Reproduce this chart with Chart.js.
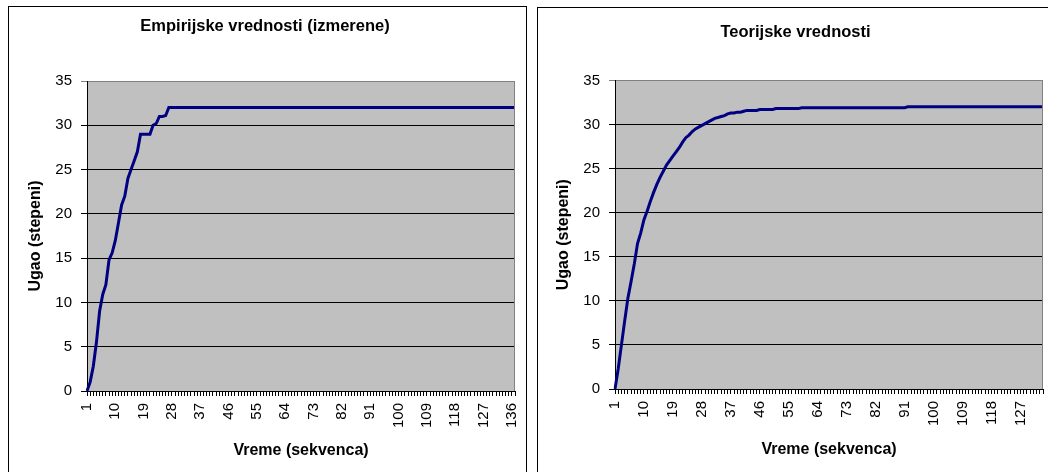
<!DOCTYPE html>
<html>
<head>
<meta charset="utf-8">
<script src="https://cdn.jsdelivr.net/npm/chart.js@4"></script>
<style>
    html, body { margin: 0; padding: 0; background: #fff; overflow: hidden; width: 1048px; height: 472px; }
    .box { position: absolute; border: 1px solid #000; background: #fff; }
    #leftBox { left: 8px; top: 6px; width: 517px; height: 480px; }
    #rightBox { left: 537px; top: 7px; width: 520px; height: 480px; }
    canvas { display: block; }
</style>
</head>
<body>
<div class="box" id="leftBox"><canvas id="empChart" width="517" height="465"></canvas></div>
<div class="box" id="rightBox"><canvas id="teoChart" width="520" height="464"></canvas></div>

<script>
// Empirijske vrednosti (izmerene), one value per sequence step
const empirical = [
    0, 1, 2.8, 5.5, 9, 10.9, 12, 14.8, 15.6, 17,
    19, 21, 22, 24, 25, 26, 27, 29, 29, 29,
    29, 30, 30.2, 31, 31, 31.1, 32, 32, 32, 32,
    32, 32, 32, 32, 32, 32, 32, 32, 32, 32,
    32, 32, 32, 32, 32, 32, 32, 32, 32, 32,
    32, 32, 32, 32, 32, 32, 32, 32, 32, 32,
    32, 32, 32, 32, 32, 32, 32, 32, 32, 32,
    32, 32, 32, 32, 32, 32, 32, 32, 32, 32,
    32, 32, 32, 32, 32, 32, 32, 32, 32, 32,
    32, 32, 32, 32, 32, 32, 32, 32, 32, 32,
    32, 32, 32, 32, 32, 32, 32, 32, 32, 32,
    32, 32, 32, 32, 32, 32, 32, 32, 32, 32,
    32, 32, 32, 32, 32, 32, 32, 32, 32, 32,
    32, 32, 32, 32, 32, 32, 32
];

// Teorijske vrednosti
const theoretical = [
    0, 2.3, 5.0, 7.7, 10.3, 12.2, 14.2, 16.5, 17.7, 19.2,
    20.2, 21.3, 22.3, 23.2, 24.0, 24.7, 25.4, 25.9, 26.4, 26.9,
    27.4, 28.0, 28.5, 28.8, 29.2, 29.5, 29.7, 29.9, 30.1, 30.3,
    30.5, 30.7, 30.8, 30.9, 31.0, 31.2, 31.3, 31.3, 31.4, 31.4,
    31.5, 31.6, 31.6, 31.6, 31.6, 31.7, 31.7, 31.7, 31.7, 31.7,
    31.8, 31.8, 31.8, 31.8, 31.8, 31.8, 31.8, 31.8, 31.9, 31.9,
    31.9, 31.9, 31.9, 31.9, 31.9, 31.9, 31.9, 31.9, 31.9, 31.9,
    31.9, 31.9, 31.9, 31.9, 31.9, 31.9, 31.9, 31.9, 31.9, 31.9,
    31.9, 31.9, 31.9, 31.9, 31.9, 31.9, 31.9, 31.9, 31.9, 31.9,
    31.9, 32, 32, 32, 32, 32, 32, 32, 32, 32,
    32, 32, 32, 32, 32, 32, 32, 32, 32, 32,
    32, 32, 32, 32, 32, 32, 32, 32, 32, 32,
    32, 32, 32, 32, 32, 32, 32, 32, 32, 32,
    32, 32, 32, 32
];

// sequence numbers on the x axis, every 9th one is printed
const empLabels = empirical.map((v, i) => String(i + 1));
const teoLabels = theoretical.map((v, i) => String(i + 1));
const labelStep = 9;

const yTicks = { min: 0, max: 35, step: 5 };

const FONT = "'Liberation Sans', Arial, sans-serif";

// grey plot area, like the spreadsheet original
const plotBackground = {
    id: 'plotBackground',
    beforeDraw(chart) {
        const { ctx, chartArea: a } = chart;
        ctx.save();
        ctx.fillStyle = '#C0C0C0';
        ctx.fillRect(a.left, a.top, a.right - a.left, a.bottom - a.top);
        ctx.restore();
    },
    afterDraw(chart) {
        const { ctx, chartArea: a } = chart;
        ctx.save();
        ctx.strokeStyle = '#808080';
        ctx.lineWidth = 1;
        ctx.beginPath();
        ctx.moveTo(Math.round(a.right) - 0.5, a.top);
        ctx.lineTo(Math.round(a.right) - 0.5, a.bottom);
        ctx.stroke();
        ctx.restore();
    }
};

function makeChart(canvasId, title, labels, values, geo) {
    const ctx = document.getElementById(canvasId).getContext('2d');
    return new Chart(ctx, {
        type: 'line',
        data: {
            labels: labels,
            datasets: [{
                data: values,
                borderColor: '#000080',
                borderWidth: 3,
                pointRadius: 0,
                tension: 0,
                fill: false
            }]
        },
        options: {
            responsive: false,
            animation: false,
            layout: { padding: { left: geo.padLeft, right: geo.padRight, top: 0, bottom: 0 } },
            plugins: {
                legend: { display: false },
                tooltip: { enabled: false },
                title: {
                    display: true,
                    text: title,
                    color: '#000',
                    font: { family: FONT, size: 16.5, weight: 'bold', lineHeight: 1.2 },
                    padding: { top: geo.titleTop, bottom: geo.titleBottom }
                }
            },
            scales: {
                x: {
                    type: 'category',
                    offset: false,
                    afterFit: function(scale) {
                        scale.height = geo.xHeight;
                        scale.paddingLeft = 0;
                        scale.paddingRight = 0;
                    },
                    grid: { drawOnChartArea: false, color: '#000', tickLength: 5 },
                    border: { color: '#000' },
                    ticks: {
                        autoSkip: false,
                        maxRotation: 90,
                        minRotation: 90,
                        padding: 7,
                        color: '#000',
                        font: { family: FONT, size: 15 },
                        callback: function(value, index) {
                            return index % labelStep === 0 ? this.getLabelForValue(value) : '';
                        }
                    },
                    title: {
                        display: true,
                        text: 'Vreme (sekvenca)',
                        color: '#000',
                        font: { family: FONT, size: 16, weight: 'bold', lineHeight: 1.2 },
                        padding: { top: 0, bottom: geo.xTitleBottom }
                    }
                },
                y: {
                    min: yTicks.min,
                    max: yTicks.max,
                    afterFit: function(scale) {
                        scale.width = geo.yWidth;
                    },
                    grid: {
                        color: c => (c.tick && c.tick.value === yTicks.max) ? '#808080' : '#000',
                        tickLength: 6
                    },
                    border: { color: '#000' },
                    ticks: {
                        stepSize: yTicks.step,
                        padding: 9,
                        color: '#000',
                        font: { family: FONT, size: 15 }
                    },
                    title: {
                        display: true,
                        text: 'Ugao (stepeni)',
                        color: '#000',
                        font: { family: FONT, size: 16, weight: 'bold', lineHeight: 1.2 },
                        padding: { top: geo.yTitleTop, bottom: 0 }
                    }
                }
            }
        },
        plugins: [plotBackground]
    });
}

document.addEventListener('DOMContentLoaded', function() {
    makeChart('empChart', 'Empirijske vrednosti (izmerene)', empLabels, empirical, {
        padLeft: 6, padRight: 11, titleTop: 9.1, titleBottom: 45.1,
        yWidth: 72, yTitleTop: 11.2, xHeight: 81, xTitleBottom: 11.4
    });
    makeChart('teoChart', 'Teorijske vrednosti', teoLabels, theoretical, {
        padLeft: 10, padRight: 15, titleTop: 14.8, titleBottom: 37.8,
        yWidth: 67, yTitleTop: 5.6, xHeight: 83, xTitleBottom: 13.1
    });
});
</script>
</body>
</html>
